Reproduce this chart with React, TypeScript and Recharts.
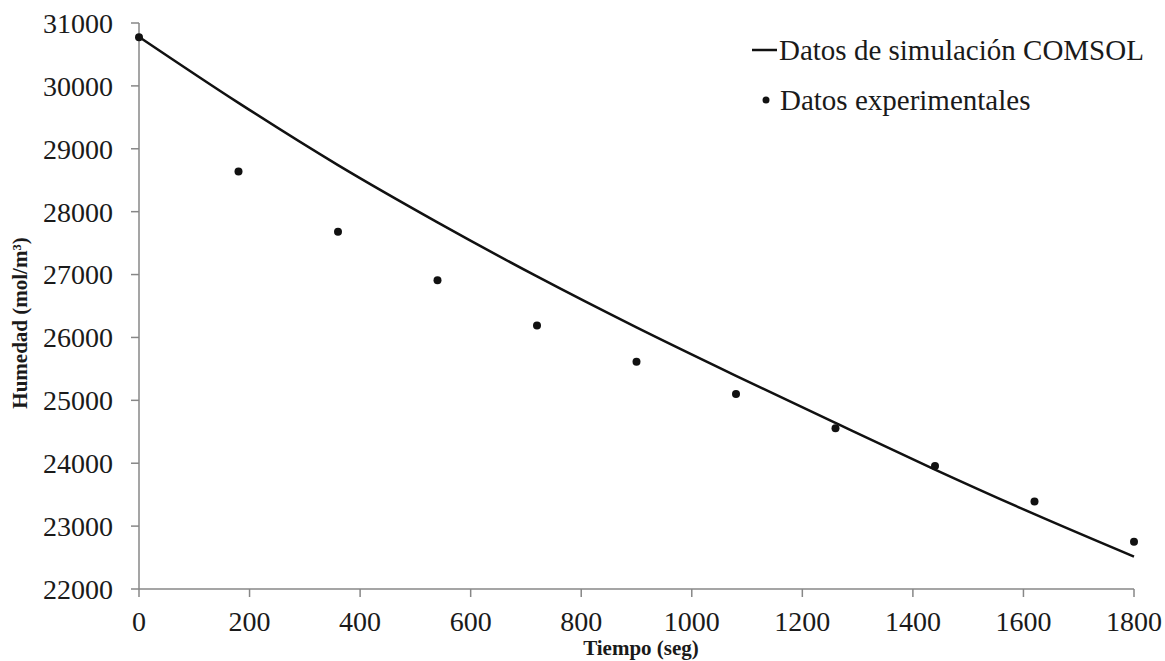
import React from "react";
import { ComposedChart, Line, Scatter, XAxis, YAxis } from "recharts";

// tiempo (seg)
const tiempos = [0, 180, 360, 540, 720, 900, 1080, 1260, 1440, 1620, 1800];
// curva de simulación COMSOL (mol/m3)
const simulacion = [30780, 29730, 28740, 27830, 26970, 26160, 25390, 24640, 23900, 23190, 22515];
// datos experimentales (mol/m3)
const experimentales = [30775, 28640, 27680, 26910, 26190, 25615, 25100, 24555, 23955, 23390, 22750];

const xTicks = [0, 200, 400, 600, 800, 1000, 1200, 1400, 1600, 1800];
const yTicks = [22000, 23000, 24000, 25000, 26000, 27000, 28000, 29000, 30000, 31000];

const data = tiempos.map((t, i) => ({ t, sim: simulacion[i], exp: experimentales[i] }));

const FONT = "Liberation Serif";
const AXIS = "#878787";

const Leyenda = () => (
     <div style={{ position: "absolute", left: 748, top: 25, fontFamily: FONT, fontSize: 29, color: "#1a1a1a", whiteSpace: "nowrap" }}>
          <div style={{ display: "flex", alignItems: "center", height: 50 }}>
               <svg width={31} height={10}>
                    <line x1={4} y1={5} x2={29} y2={5} stroke="#111" strokeWidth={2.5} />
               </svg>
               <span>Datos de simulación COMSOL</span>
          </div>
          <div style={{ display: "flex", alignItems: "center", height: 50 }}>
               <svg width={32} height={10}>
                    <circle cx={18} cy={5} r={3.5} fill="#111" />
               </svg>
               <span>Datos experimentales</span>
          </div>
     </div>
);

const Dot = (props: any) => <circle cx={props.cx} cy={props.cy} r={4} fill="#111" />;

export default function App() {
     return (
          <div style={{ position: "absolute", left: 0, top: 0, width: 1165, height: 661, background: "#fff", fontFamily: FONT }}>
               <ComposedChart
                    width={1165}
                    height={661}
                    data={data}
                    margin={{ top: 23, right: 31, bottom: 0, left: 0 }}
               >
                    <XAxis
                         dataKey="t"
                         type="number"
                         domain={[0, 1800]}
                         ticks={xTicks}
                         height={72}
                         stroke={AXIS}
                         strokeWidth={1.5}
                         tickSize={8}
                         tickMargin={14}
                         tick={{ fill: "#1a1a1a", fontSize: 28, fontFamily: FONT }}
                         label={() => (
                              <text x={641} y={655} textAnchor="middle" fontFamily={FONT} fontWeight="bold" fontSize={21} fill="#1a1a1a">
                                   Tiempo (seg)
                              </text>
                         )}
                    />
                    <YAxis
                         type="number"
                         domain={[22000, 31000]}
                         ticks={yTicks}
                         width={139}
                         stroke={AXIS}
                         strokeWidth={1.5}
                         tickSize={8}
                         tickMargin={18}
                         tick={{ fill: "#1a1a1a", fontSize: 28, fontFamily: FONT }}
                         label={() => (
                              <text
                                   x={27}
                                   y={323}
                                   transform="rotate(-90 27 323)"
                                   textAnchor="middle"
                                   fontFamily={FONT}
                                   fontWeight="bold"
                                   fontSize={21}
                                   fill="#1a1a1a"
                              >
                                   Humedad (mol/m³)
                              </text>
                         )}
                    />
                    <Line
                         type="monotone"
                         dataKey="sim"
                         stroke="#111"
                         strokeWidth={2.5}
                         dot={false}
                         isAnimationActive={false}
                    />
                    <Scatter dataKey="exp" shape={Dot} isAnimationActive={false} />
               </ComposedChart>
               <Leyenda />
          </div>
     );
}
